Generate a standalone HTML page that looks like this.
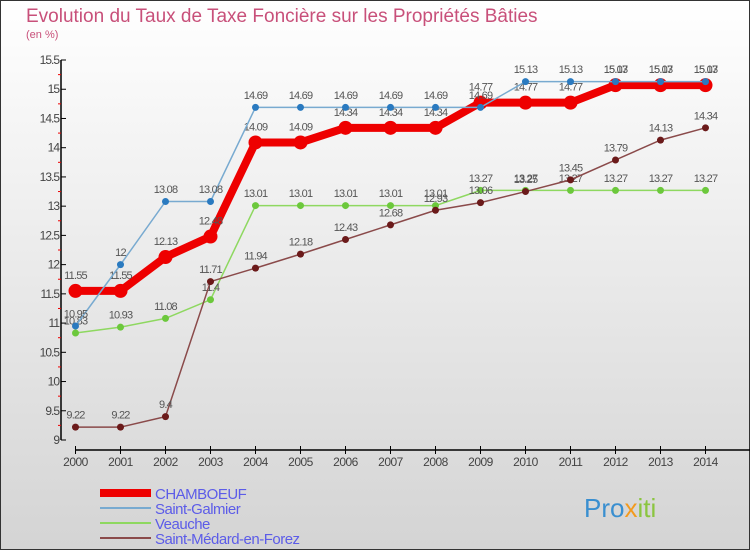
<!DOCTYPE html>
<html><head><meta charset="utf-8"><style>
html,body{margin:0;padding:0}
body{width:750px;height:550px;overflow:hidden;font-family:"Liberation Sans",sans-serif}
</style></head><body>
<svg width="750" height="550" xmlns="http://www.w3.org/2000/svg">
<defs><linearGradient id="bg" x1="0" y1="0" x2="0" y2="1"><stop offset="0" stop-color="#ffffff"/><stop offset="1" stop-color="#d4d4d4"/></linearGradient></defs>
<rect x="0.5" y="0.5" width="749" height="549" fill="url(#bg)" stroke="#333" stroke-width="1"/>
<text x="26" y="22" font-size="19" fill="#c8507a">Evolution du Taux de Taxe Foncière sur les Propriétés Bâties</text>
<text x="26" y="38" font-size="11" fill="#c8507a">(en %)</text>
<g id="axes"></g>
<g id="series"></g>
<g id="legend"></g>
<text x="584" y="517" font-size="26" fill="#3a8fd0">Pro<tspan fill="#f39a1e">x</tspan><tspan fill="#8bc540">iti</tspan></text>
</svg>
<script>
const years=[2000,2001,2002,2003,2004,2005,2006,2007,2008,2009,2010,2011,2012,2013,2014];
const chamboeuf=[11.55,11.55,12.13,12.48,14.09,14.09,14.34,14.34,14.34,14.77,14.77,14.77,15.07,15.07,15.07];
const galmier=[10.95,12,13.08,13.08,14.69,14.69,14.69,14.69,14.69,14.69,15.13,15.13,15.13,15.13,15.13];
const veauche=[10.83,10.93,11.08,11.4,13.01,13.01,13.01,13.01,13.01,13.27,13.27,13.27,13.27,13.27,13.27];
const medard=[9.22,9.22,9.4,11.71,11.94,12.18,12.43,12.68,12.93,13.06,13.25,13.45,13.79,14.13,14.34];
const yTicks=[9,9.5,10,10.5,11,11.5,12,12.5,13,13.5,14,14.5,15,15.5];
const NS="http://www.w3.org/2000/svg";
const X=i=>75.5+i*45;
const Y=v=>440-(v-9)*58.46;
function mk(tag,attrs,parent,txt){const e=document.createElementNS(NS,tag);for(const k in attrs)e.setAttribute(k,attrs[k]);if(txt!==undefined)e.textContent=txt;parent.appendChild(e);return e;}
const ax=document.getElementById('axes');
let l=mk('line',{x1:61,y1:Y(15.5),x2:61,y2:440,stroke:'#000','stroke-width':1.5},ax);


l=mk('line',{x1:75.5,y1:450,x2:750,y2:450,stroke:'#000','stroke-width':1.5},ax);


yTicks.forEach(v=>{
  mk('line',{x1:61,y1:Y(v),x2:66,y2:Y(v),stroke:'#000'},ax);
  if(v<15.5) mk('line',{x1:58,y1:Y(v+0.25),x2:61,y2:Y(v+0.25),stroke:'#e00'},ax);
  const t=mk('text',{x:59,y:Y(v)+4,'text-anchor':'end','font-size':12,fill:'#444','letter-spacing':'-1'},ax,String(v));
  
  
});
years.forEach((yr,i)=>{
  mk('line',{x1:X(i),y1:446,x2:X(i),y2:454,stroke:'#000'},ax);
  const t=mk('text',{x:X(i),y:466,'text-anchor':'middle','font-size':12,fill:'#444','letter-spacing':'-0.5'},ax,String(yr));
  
  
});
const sg=document.getElementById('series');
const defs=[
 {name:'veauche',data:veauche,color:'#8ed860',dot:'#6cc83c',w:1.5,r:3.5},
 {name:'saint-medard',data:medard,color:'#8a4a4a',dot:'#6b1a1a',w:1.5,r:3.5},
 {name:'chamboeuf',data:chamboeuf,color:'#ee0000',dot:'#ee0000',w:8,r:7},
 {name:'saint-galmier',data:galmier,color:'#78aad0',dot:'#2a7ac0',w:1.5,r:3.5}
];
defs.forEach(s=>{
  const g=mk('g',{},sg);
  
  
  const p=mk('polyline',{points:s.data.map((v,i)=>X(i)+','+Y(v)).join(' '),fill:'none',stroke:s.color,'stroke-width':s.w},g);
  
  
  s.data.forEach((v,i)=>{
    const c=mk('circle',{cx:X(i),cy:Y(v),r:s.r,fill:s.dot},g);
    
    
    const t=mk('text',{x:X(i),y:Y(v)-s.r-5,'text-anchor':'middle','font-size':11,fill:'#555','letter-spacing':'-0.8'},g,String(v));
    
    
  });
});
const lg=document.getElementById('legend');
const leg=[['CHAMBOEUF','#ee0000',8],['Saint-Galmier','#78aad0',2],['Veauche','#8ed860',2],['Saint-Médard-en-Forez','#8a4a4a',2]];
leg.forEach((e,i)=>{
  const y=493+i*15;
  const g=mk('g',{},lg);
  
  
  mk('line',{x1:100,y1:y,x2:151,y2:y,stroke:e[1],'stroke-width':e[2]},g);
  mk('text',{x:155,y:y+6,'font-size':15,fill:'#5c5ce8','letter-spacing':'-0.5'},g,e[0]);
});
</script>
</body></html>
